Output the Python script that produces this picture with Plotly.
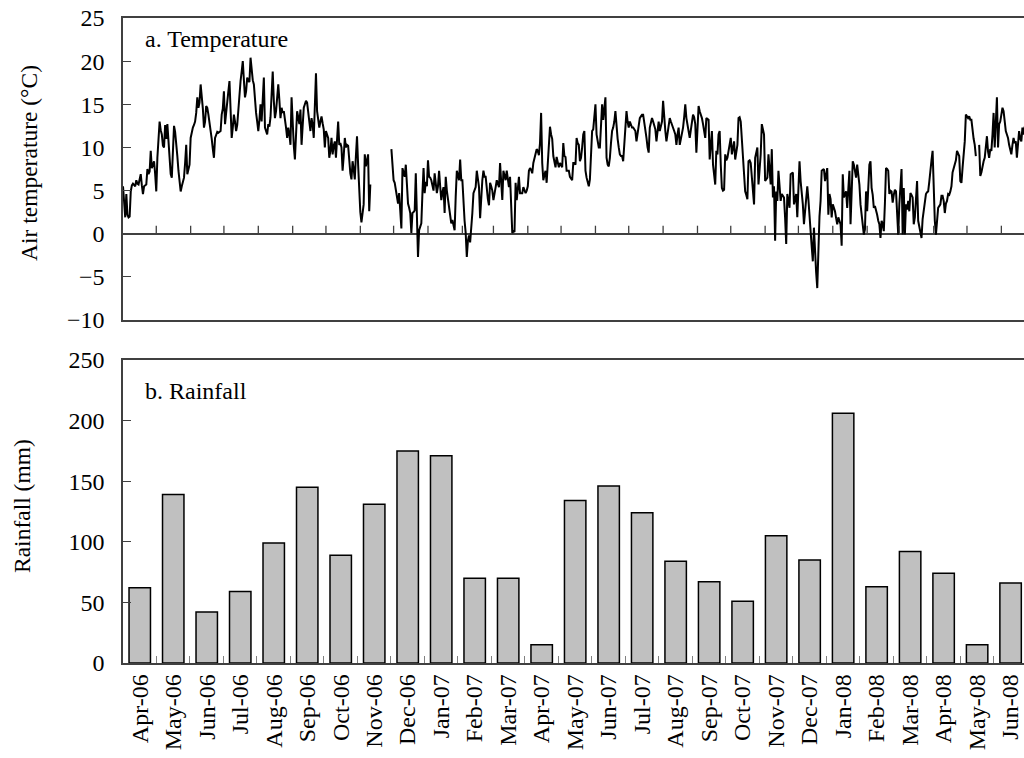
import plotly.graph_objects as go
import pandas as pd

# Daily air temperature (°C), one list per calendar month (None = no record)
t_apr06 = [5.5, 3.2, 1.9, 4.6, 2.2, 1.9, 2.0, 4.9, 5.6, 5.8, 5.6, 5.5, 6.2, 5.8, 5.7,
           6.2, 6.9, 5.6, 4.6, 5.5, 5.6, 5.7, 7.5, 6.9, 7.2, 9.6, 7.6, 8.0, 8.4, 6.9]
t_may06 = [4.9, 8.8, 10.5, 13.0, 12.0, 11.5, 10.2, 10.0, 12.6, 11.0, 12.7, 10.3, 8.5, 6.9, 6.5,
           9.0, 12.5, 11.8, 10.7, 9.0, 7.3, 5.8, 4.9, 5.5, 6.0, 6.5, 8.2, 10.3, 6.9, 7.5, 8.0]
t_jun06 = [11.1, 11.8, 12.3, 12.6, 13.0, 14.0, 15.8, 14.6, 15.2, 17.3, 16.1, 14.5, 12.3, 13.0, 14.8,
           14.6, 13.8, 13.0, 12.3, 11.0, 9.8, 8.8, 11.1, 11.5, 11.8, 11.7, 11.8, 11.9, 13.8, 14.5]
t_jul06 = [16.5, 12.7, 14.0, 15.8, 16.5, 17.7, 14.0, 11.1, 12.3, 13.8, 13.0, 11.9, 12.6, 14.6, 16.0,
           17.7, 18.8, 20.0, 17.8, 15.8, 16.5, 18.1, 17.7, 17.6, 20.4, 19.0, 17.8, 17.3, 15.4, 14.0, 13.0]
t_aug06 = [11.9, 13.2, 15.0, 13.0, 15.5, 18.1, 12.3, 12.0, 11.5, 12.7, 12.4, 13.5, 15.8, 18.8, 15.4,
           13.4, 14.2, 15.4, 17.3, 15.5, 13.4, 14.6, 14.0, 14.2, 12.8, 12.3, 11.1, 12.3, 11.5, 10.3, 15.8]
t_sep06 = [11.9, 10.2, 8.6, 12.7, 14.2, 13.5, 12.7, 14.4, 10.3, 12.5, 14.6, 15.0, 15.4, 15.2, 13.8,
           12.7, 11.9, 13.4, 12.6, 11.1, 15.0, 18.6, 14.2, 13.2, 12.3, 13.0, 13.6, 12.8, 12.1, 10.0]
t_oct06 = [11.9, 11.5, 11.1, 8.8, 9.6, 11.1, 9.2, 10.2, 10.7, 8.8, 11.5, 13.0, 10.3, 10.5, 10.0,
           7.3, 9.0, 11.1, 10.0, 10.3, 10.2, 8.0, 7.0, 6.3, 8.4, 7.5, 6.3, 9.0, 11.3, 8.0, 4.2]
t_nov06 = [2.5, 1.3, 2.2, 3.4, 9.2, 7.8, 8.5, 9.2, 2.6, 5.7,
           None, None, None, None, None, None, None, None, None,
           None, None, None, None, None, None, None, None, None,
           9.8, 8.0]
t_dec06 = [6.2, 5.9, 5.0, 4.0, 3.5, 4.7, 2.5, 0.6, 7.6, 7.0, 6.6, 8.0, 6.0, 3.5, 3.0,
           2.4, 0.1, 2.4, 2.5, 2.7, 7.0, 2.0, -2.7, 0.4, 1.0, 1.2, 4.7, 7.6, 4.7, 6.0, 5.5]
t_jan07 = [8.5, 6.6, 6.5, 6.2, 5.6, 5.0, 7.0, 5.5, 4.7, 5.5, 7.3, 5.5, 3.9, 4.8, 5.4,
           2.4, 6.6, 5.0, 3.9, 3.0, 2.0, 1.2, 1.6, 1.0, 0.4, 4.3, 7.3, 6.8, 6.2, 8.6, 6.2]
t_feb07 = [6.2, 3.1, 1.5, 0.1, -2.7, -0.8, -0.2, -1.0, 1.5, 2.4, 4.7, 5.0, 5.4, 7.3,
           6.5, 5.4, 1.8, 4.5, 6.2, 7.3, 6.6, 6.6, 4.7, 4.0, 3.3, 5.9, 5.5, 5.0]
t_mar07 = [3.9, 4.5, 5.4, 6.2, 5.8, 5.4, 8.2, 6.0, 3.9, 7.3, 6.8, 6.2, 7.3, 6.4, 5.4,
           6.6, 3.9, 0.1, 0.3, 0.2, 5.9, 3.9, 5.2, 6.6, 4.7, 4.7, 4.7, 5.4, 5.0, 4.7, 5.0]
t_apr07 = [5.5, 7.3, 7.6, 7.4, 7.0, 8.2, 8.8, 9.4, 9.8, 9.6, 9.1, 10.5, 14.0, 8.2, 6.2,
           6.8, 7.3, 5.9, 8.0, 10.5, 12.4, 11.5, 11.0, 9.0, 8.2, 7.7, 8.9, 8.2, 7.7, 8.2]
t_may07 = [8.0, 7.7, 10.5, 9.0, 8.9, 7.3, 7.3, 7.3, 6.6, 6.4, 6.2, 8.2, 8.2, 8.0, 11.1,
           10.5, 10.3, 8.4, 8.8, 10.0, 11.5, 11.9, 7.3, 6.5, 6.0, 5.5, 6.3, 9.0, 11.9, 12.1, 13.5]
t_jun07 = [15.0, 11.5, 10.5, 10.0, 10.0, 12.5, 15.0, 13.2, 14.5, 15.8, 8.8, 8.0, 7.8, 8.8, 10.5,
           11.9, 12.3, 13.0, 14.2, 11.9, 11.0, 10.0, 9.2, 9.0, 9.0, 8.4, 10.0, 11.5, 14.2, 13.0]
t_jul07 = [12.3, 13.0, 12.6, 12.3, 12.3, 12.0, 11.9, 10.7, 11.5, 12.3, 13.4, 13.6, 13.8, 13.8, 13.0,
           11.9, 11.1, 10.0, 9.4, 12.3, 13.0, 13.4, 13.0, 12.5, 12.1, 10.7, 11.8, 13.0, 11.9, 12.5, 13.0]
t_aug07 = [15.4, 13.0, 11.9, 10.7, 11.5, 12.7, 13.4, 13.0, 12.7, 12.2, 11.9, 11.5, 10.3, 11.5, 12.3,
           10.3, 11.0, 11.9, 12.3, 13.5, 15.0, 13.4, 12.5, 11.5, 11.1, 12.0, 13.0, 13.8, 13.5, 12.7, 9.4]
t_sep07 = [12.0, 14.8, 14.2, 13.8, 13.4, 12.7, 12.0, 11.1, 13.4, 13.3, 13.2, 8.6, 10.5, 11.9, 8.0,
           6.9, 5.7, 9.6, 9.2, 11.5, 11.9, 8.0, 5.3, 5.0, 5.1, 9.2, 8.5, 8.8, 9.6, 10.5]
t_oct07 = [11.1, 9.2, 10.0, 10.7, 8.6, 9.5, 10.3, 13.4, 13.5, 13.0, 11.1, 9.5, 8.0, 4.9, 4.5,
           4.0, 8.4, 8.5, 8.2, 6.5, 5.0, 3.4, 8.8, 9.5, 10.0, 5.7, 7.5, 9.2, 12.7, 12.0, 11.5]
t_nov07 = [6.1, 6.3, 6.5, 9.2, 7.5, 5.7, 9.8, 4.2, 5.5, -0.8, 4.9, 3.8, 7.3, 5.5, 3.8,
           4.6, 4.4, 4.2, 1.9, -1.2, 4.6, 3.5, 3.0, 6.9, 7.0, 7.1, 3.4, 4.0, 4.6, 1.9]
t_dec07 = [5.0, 8.4, 6.1, 5.0, 3.4, 1.1, 2.5, 3.4, 5.5, 4.0, 2.6, 0.3, -1.5, -3.2, 0.7,
           -3.2, -4.5, -6.3, -0.5, 2.0, 3.8, 7.3, 7.4, 7.5, 6.1, 7.0, 7.6, 2.2, 4.6, 4.0, 1.9]
t_jan08 = [3.4, 3.0, 2.6, 1.8, 1.1, 1.9, 1.5, 1.1, -1.4, 6.9, 4.2, 4.5, 4.9, 3.0, 5.5,
           7.3, 1.1, 5.0, 8.4, 8.0, 7.0, 6.5, 8.0, 7.0, 5.7, 3.4, 2.0, 1.1, -0.1, 0.5, 4.9]
t_feb08 = [2.6, 6.0, 8.0, 8.4, 5.3, 4.5, 3.0, 3.2, 2.8, 2.2, 1.5, 1.1, -0.5, 1.5, 1.1,
           0.3, 3.5, 7.6, 7.5, 7.3, 4.6, 5.0, 4.9, 3.6, 4.5, 5.1, 4.9, 1.9, -0.1]
t_mar08 = [3.4, 5.5, 7.5, -0.1, 5.3, -0.1, 3.4, 2.8, 3.8, 2.6, 4.7, 4.5, 4.2, 1.1, 1.9,
           4.0, 6.1, 1.5, 0.9, 0.5, -0.5, 1.7, 2.8, 3.8, 4.6, 4.8, 4.9, 6.0, 7.6, 8.5, 9.6]
t_apr08 = [4.2, 1.5, -0.1, 1.5, 3.0, 3.2, 3.4, 4.4, 4.4, 3.8, 2.4, 3.5, 3.8, 4.6, 4.5,
           4.9, 5.5, 7.1, 7.6, 8.0, 8.5, 9.6, 9.3, 9.0, 6.1, 5.9, 7.6, 9.0, 10.7, 13.8]
t_may08 = [13.6, 13.4, 13.6, 13.2, 13.2, 11.9, 11.0, 10.3, 9.0, None, None, 10.3, 6.7, 7.1, 8.0,
           8.4, 8.8, 10.0, 11.3, 9.5, 8.8, 9.8, 9.6, 11.5, 14.0, 10.0, 13.0, 15.8, 10.0, 12.7, 13.0]
t_jun08 = [14.0, 14.6, 14.2, 13.0, 11.9, 11.5, 11.1, 10.3, 9.5, 9.2, 10.3, 11.1, 10.5, 10.7, 8.8,
           10.0, 11.9, 11.0, 10.7, 12.3, 11.5, 12.4, 11.0, 12.0, 10.5, 11.5, 12.0, 11.2, 10.8, 11.5]

# Monthly rainfall totals (mm)
rain_months = ["Apr-06", "May-06", "Jun-06", "Jul-06", "Aug-06", "Sep-06", "Oct-06", "Nov-06",
               "Dec-06", "Jan-07", "Feb-07", "Mar-07", "Apr-07", "May-07", "Jun-07", "Jul-07",
               "Aug-07", "Sep-07", "Oct-07", "Nov-07", "Dec-07", "Jan-08", "Feb-08", "Mar-08",
               "Apr-08", "May-08", "Jun-08"]
rain_mm = [62, 139, 42, 59, 99, 145, 89, 131, 175, 171, 70, 70, 15, 134, 146, 124,
           84, 67, 51, 105, 85, 206, 63, 92, 74, 15, 66]

temp_by_month = [t_apr06, t_may06, t_jun06, t_jul06, t_aug06, t_sep06, t_oct06, t_nov06, t_dec06,
                 t_jan07, t_feb07, t_mar07, t_apr07, t_may07, t_jun07, t_jul07, t_aug07, t_sep07,
                 t_oct07, t_nov07, t_dec07, t_jan08, t_feb08, t_mar08, t_apr08, t_may08, t_jun08]
month_starts = pd.date_range("2006-04-01", periods=len(temp_by_month), freq="MS")

dates, temps = [], []
for start, vals in zip(month_starts, temp_by_month):
    vals = vals[:start.days_in_month]
    dates.extend(pd.date_range(start, periods=len(vals), freq="D"))
    temps.extend(vals)

AX = "#404040"
SERIF = "Liberation Serif, Times New Roman, serif"
FONT = dict(family=SERIF, size=24, color="black")
TITLE_FONT = dict(family=SERIF, size=23.5, color="black")
x_range = ["2006-04-01", "2008-06-21 10:00"]

fig = go.Figure()
fig.add_trace(go.Scatter(
    x=dates, y=temps, mode="lines", connectgaps=False,
    line=dict(color="black", width=2), xaxis="x", yaxis="y", showlegend=False,
))
fig.add_trace(go.Bar(
    x=rain_months, y=rain_mm, xaxis="x2", yaxis="y2", showlegend=False,
    marker=dict(color="#C0C0C0", line=dict(color="black", width=1.5)),
))

# Month-boundary tick marks standing on the 0 °C line
month_ticks = [
    dict(type="line", xref="x", yref="y", x0=m, x1=m,
         ysizemode="pixel", yanchor=0, y0=0, y1=8,
         line=dict(color=AX, width=1.3), layer="above")
    for m in month_starts[1:]
]

fig.update_layout(
    width=1024, height=758,
    margin=dict(l=123, r=0, t=18, b=95),
    paper_bgcolor="white", plot_bgcolor="white",
    font=FONT,
    bargap=0.36,
    shapes=month_ticks,
    xaxis=dict(
        domain=[0, 1], anchor="y", type="date", range=x_range,
        showline=True, mirror=True, linecolor=AX, linewidth=1.5,
        ticks="", showticklabels=False, showgrid=False, zeroline=False,
    ),
    yaxis=dict(
        domain=[(663 - 320) / 645, 1], anchor="x", range=[-10, 25],
        tick0=0, dtick=5, ticks="inside", ticklen=8, tickcolor=AX, tickwidth=1.3,
        showline=True, linecolor=AX, linewidth=1.5,
        showgrid=False, zeroline=True, zerolinecolor=AX, zerolinewidth=1.5,
        tickfont=FONT, ticklabelstandoff=12,
    ),
    xaxis2=dict(
        domain=[0, 1], anchor="y2", type="category", range=[-0.5, 26.4],
        showline=True, mirror=True, linecolor=AX, linewidth=1.5,
        ticks="inside", tickson="boundaries", ticklen=7, tickcolor="#808080", tickwidth=1.3,
        tickangle=-90, tickfont=FONT, showgrid=False, zeroline=False,
    ),
    yaxis2=dict(
        domain=[0, (663 - 360) / 645], anchor="x2", range=[0, 250],
        tick0=0, dtick=50, ticks="inside", ticklen=8, tickcolor=AX, tickwidth=1.3,
        showline=True, linecolor=AX, linewidth=1.5,
        showgrid=False, zeroline=False, tickfont=FONT, ticklabelstandoff=12,
    ),
    annotations=[
        dict(text="a. Temperature", xref="paper", yref="paper",
             x=(143 - 123) / 901, y=(663 - 39) / 645, xanchor="left", yanchor="middle",
             showarrow=False, font=FONT),
        dict(text="b. Rainfall", xref="paper", yref="paper",
             x=(143 - 123) / 901, y=(663 - 391) / 645, xanchor="left", yanchor="middle",
             showarrow=False, font=FONT),
        dict(text="Air temperature (°C)", xref="paper", yref="paper", textangle=-90,
             x=(29 - 123) / 901, y=(663 - 163) / 645, xanchor="center", yanchor="middle",
             showarrow=False, font=TITLE_FONT),
        dict(text="Rainfall (mm)", xref="paper", yref="paper", textangle=-90,
             x=(22 - 123) / 901, y=(663 - 506) / 645, xanchor="center", yanchor="middle",
             showarrow=False, font=TITLE_FONT),
    ],
)

fig.write_html("out.html")
